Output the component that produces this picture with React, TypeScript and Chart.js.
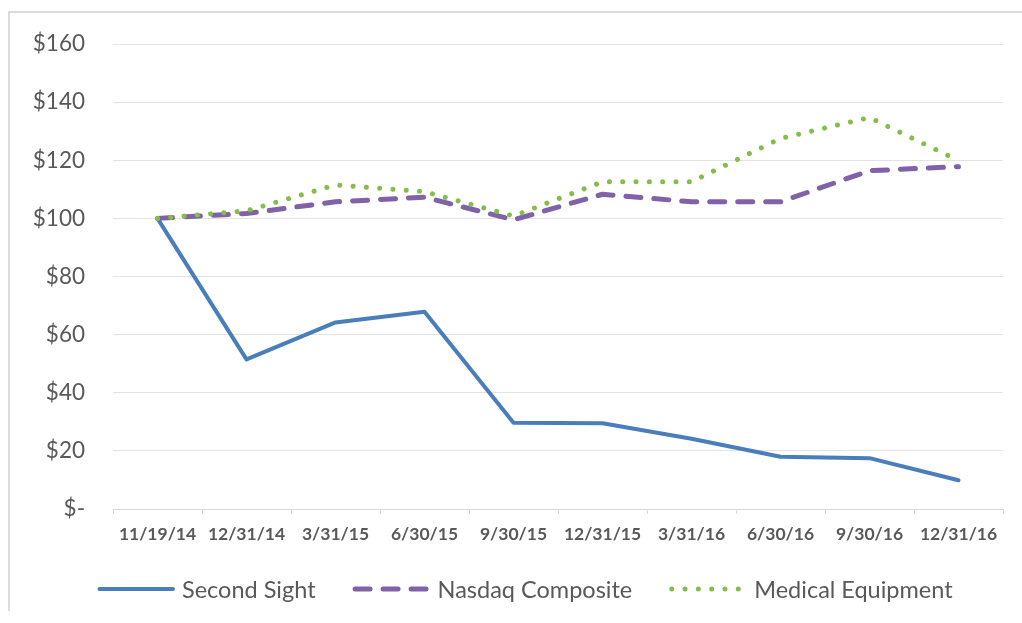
import React, { useEffect, useRef } from 'react';
import { Chart, registerables } from 'chart.js';

Chart.register(...registerables);

const categories = ['11/19/14', '12/31/14', '3/31/15', '6/30/15', '9/30/15', '12/31/15', '3/31/16', '6/30/16', '9/30/16', '12/31/16'];
const secondSight = [100, 51.5, 64.2, 67.9, 29.7, 29.5, 24.2, 18, 17.5, 9.9];
const nasdaqComposite = [100, 101.7, 105.7, 107.3, 99.5, 108.3, 105.7, 105.7, 116.4, 117.8];
const medicalEquipment = [100, 102.6, 111.5, 109.2, 100.8, 112.6, 112.6, 127.5, 134.7, 119.9];
const yTickLabels = ['$-', '$20', '$40', '$60', '$80', '$100', '$120', '$140', '$160'];
const seriesNames = ['Second Sight', 'Nasdaq Composite', 'Medical Equipment'];

const TEXT = '#595959';
const FONT = 'Lato, "Open Sans", sans-serif';

const legendPlugin = {
  id: 'customLegend',
  afterDraw(chart: any) {
    const ctx = chart.ctx as CanvasRenderingContext2D;
    const y = 576;
    let x = 87;
    ctx.save();
    ctx.font = `23.5px ${FONT}`;
    ctx.textBaseline = 'middle';
    ctx.textAlign = 'left';
    chart.data.datasets.forEach((ds: any) => {
      ctx.beginPath();
      ctx.strokeStyle = ds.borderColor;
      ctx.lineWidth = ds.borderWidth;
      ctx.lineCap = 'round';
      ctx.setLineDash(ds.borderDash || []);
      ctx.moveTo(x + 2.5, y);
      ctx.lineTo(x + 76, y);
      ctx.stroke();
      ctx.setLineDash([]);
      ctx.fillStyle = TEXT;
      ctx.fillText(ds.label, x + 85, y + 1);
      x += 85 + ctx.measureText(ds.label).width + 37;
    });
    ctx.restore();
  },
};

export default function App() {
  const canvasRef = useRef<HTMLCanvasElement | null>(null);

  useEffect(() => {
    if (!canvasRef.current) return;
    const chart = new Chart(canvasRef.current, {
      type: 'line',
      data: {
        labels: categories,
        datasets: [
          {
            label: seriesNames[0],
            data: secondSight,
            borderColor: '#4A7EBB',
            borderWidth: 4,
            borderCapStyle: 'round',
            borderJoinStyle: 'round',
            pointRadius: 0,
            tension: 0,
            fill: false,
            order: 2,
          },
          {
            label: seriesNames[1],
            data: nasdaqComposite,
            borderColor: '#7F62A8',
            borderWidth: 5,
            borderDash: [15, 13],
            borderCapStyle: 'round',
            borderJoinStyle: 'round',
            pointRadius: 0,
            tension: 0,
            fill: false,
            order: 1,
          },
          {
            label: seriesNames[2],
            data: medicalEquipment,
            borderColor: '#86BC48',
            borderWidth: 5,
            borderDash: [0.01, 13.3],
            borderCapStyle: 'round',
            borderJoinStyle: 'round',
            pointRadius: 0,
            tension: 0,
            fill: false,
            order: 0,
          },
        ],
      },
      options: {
        animation: false,
        responsive: true,
        maintainAspectRatio: false,
        layout: { padding: { left: 0, right: 19, top: 31, bottom: 52 } },
        plugins: {
          legend: { display: false },
          tooltip: { enabled: false },
        },
        scales: {
          x: {
            type: 'category',
            offset: true,
            afterFit: (scale: any) => {
              scale.height = 50;
            },
            grid: {
              display: true,
              offset: true,
              drawOnChartArea: false,
              drawTicks: true,
              tickLength: 5,
              color: '#d9d9d9',
            },
            border: { display: true, color: '#d9d9d9', width: 1 },
            ticks: {
              color: TEXT,
              padding: 10,
              maxRotation: 0,
              autoSkip: false,
              font: { family: FONT, size: 17.5, weight: 'bold' },
            },
          },
          y: {
            min: 0,
            max: 160,
            afterFit: (scale: any) => {
              scale.width = 103;
            },
            grid: {
              color: '#e3e3e3',
              lineWidth: 1,
              drawTicks: true,
              tickLength: 28,
              tickColor: 'rgba(0,0,0,0)',
            },
            border: { display: false },
            ticks: {
              stepSize: 20,
              padding: 0,
              color: TEXT,
              font: { family: FONT, size: 22.5 },
              callback: (v: any) => yTickLabels[Math.round(Number(v) / 20)],
            },
          },
        },
      },
      plugins: [legendPlugin],
    });
    return () => chart.destroy();
  }, []);

  return (
    <div
      style={{
        position: 'absolute',
        left: 8,
        top: 11,
        width: 1014,
        height: 600,
        boxSizing: 'border-box',
        borderTop: '2px solid #dcdcdc',
        borderLeft: '2px solid #dcdcdc',
        background: '#fff',
      }}
    >
      <div style={{ position: 'absolute', left: 0, top: 0, width: 1012, height: 598 }}>
        <canvas ref={canvasRef} />
      </div>
    </div>
  );
}
